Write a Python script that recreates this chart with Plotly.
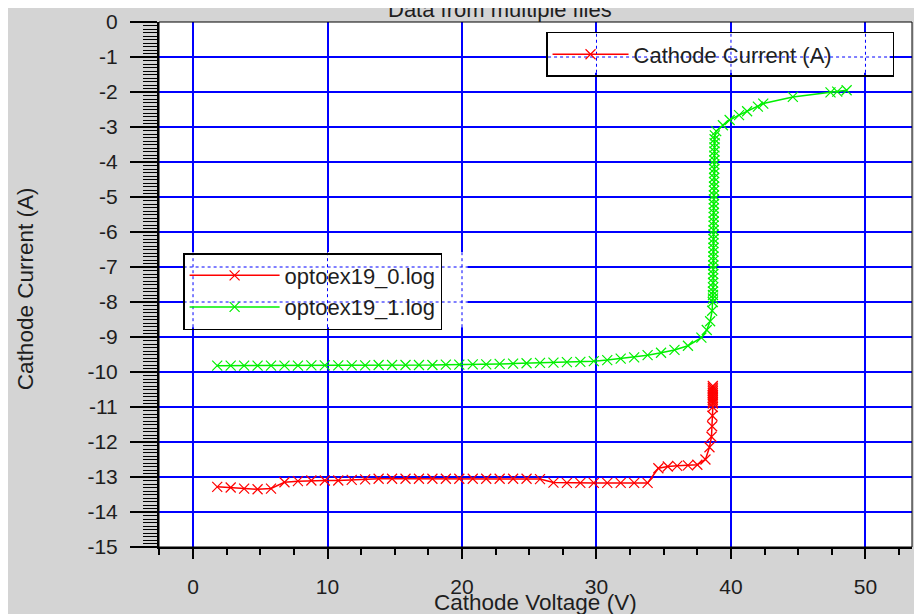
import plotly.graph_objects as go

# ---- data ----
GREEN_V = [1.8, 2.8, 3.8, 4.8, 5.8, 6.8, 7.8, 8.8, 9.8, 10.8, 11.8, 12.8, 13.8, 14.8,
           15.8, 16.8, 17.8, 18.8, 19.8, 20.8, 21.8, 22.8, 23.8, 24.8, 25.8, 26.8, 27.8,
           28.8, 29.8, 30.8, 31.8, 32.8, 33.8, 34.8, 35.8, 36.8, 37.8, 38.2, 38.45, 38.6,
           38.65, 38.66, 38.66, 38.66, 38.67, 38.67, 38.67, 38.68, 38.68, 38.68, 38.69,
           38.69, 38.69, 38.7, 38.7, 38.7, 38.7, 38.71, 38.71, 38.71, 38.72, 38.72, 38.72,
           38.73, 38.73, 38.73, 38.74, 38.74, 38.74, 38.75, 38.75, 38.75, 38.76, 38.76,
           38.76, 38.77, 38.77, 38.78, 38.78, 38.8, 38.9, 39.4, 39.9, 40.6, 41.2, 42.0,
           42.4, 44.6, 47.4, 47.9, 48.6]
GREEN_I = [-9.82, -9.82, -9.82, -9.82, -9.82, -9.82, -9.82, -9.81, -9.81, -9.81, -9.81,
           -9.81, -9.8, -9.8, -9.8, -9.8, -9.8, -9.79, -9.79, -9.78, -9.78, -9.77, -9.76,
           -9.75, -9.74, -9.73, -9.72, -9.71, -9.69, -9.66, -9.62, -9.58, -9.52, -9.45,
           -9.37, -9.25, -9.02, -8.8, -8.55, -8.25, -8.0, -7.9, -7.8, -7.7, -7.58, -7.45,
           -7.32, -7.2, -7.07, -6.95, -6.82, -6.7, -6.57, -6.45, -6.32, -6.2, -6.07, -5.95,
           -5.82, -5.7, -5.57, -5.45, -5.32, -5.2, -5.07, -4.95, -4.82, -4.7, -4.57, -4.45,
           -4.32, -4.2, -4.07, -3.95, -3.82, -3.7, -3.58, -3.46, -3.35, -3.24, -3.12,
           -2.95, -2.8, -2.66, -2.55, -2.42, -2.33, -2.14, -2.01, -1.99, -1.95]

RED_V = [1.8, 2.8, 3.8, 4.8, 5.8, 6.8, 7.8, 8.8, 9.8, 10.8, 11.8, 12.8, 13.8, 14.8,
         15.8, 16.8, 17.8, 18.8, 19.8, 20.8, 21.8, 22.8, 23.8, 24.8, 25.8, 26.8, 27.8,
         28.8, 29.8, 30.8, 31.8, 32.8, 33.8, 34.6, 35.3, 36.0, 36.8, 37.5, 38.1, 38.4,
         38.55, 38.6, 38.62, 38.65, 38.65, 38.65, 38.65, 38.65, 38.65, 38.65, 38.65,
         38.65, 38.65, 38.65, 38.65]
RED_I = [-13.28, -13.3, -13.33, -13.35, -13.33, -13.15, -13.12, -13.1, -13.1, -13.1,
         -13.08, -13.07, -13.05, -13.05, -13.05, -13.05, -13.05, -13.05, -13.05, -13.05,
         -13.05, -13.05, -13.05, -13.05, -13.06, -13.16, -13.17, -13.17, -13.17, -13.17,
         -13.17, -13.17, -13.17, -12.75, -12.7, -12.68, -12.67, -12.65, -12.5, -12.15,
         -11.85, -11.55, -11.25, -11.0, -10.9, -10.85, -10.8, -10.75, -10.7, -10.65,
         -10.6, -10.55, -10.5, -10.45, -10.4]

SERIES_NAMES = ["optoex19_0.log", "optoex19_1.log"]
Y_TICKS = [0, -1, -2, -3, -4, -5, -6, -7, -8, -9, -10, -11, -12, -13, -14, -15]
Y_TICK_TEXT = [str(v) for v in Y_TICKS]
X_TICKS = [0, 10, 20, 30, 40, 50]

FONT = "Arial, Liberation Sans, sans-serif"
TXT = "#1e1e1e"
GRID = "#0000ff"
X_RANGE = [-2.53, 53.46]

fig = go.Figure()


def series(x, y, name, color, legend="legend"):
    return go.Scatter(
        x=x, y=y, name=name, mode="lines+markers", legend=legend,
        line=dict(color=color, width=1.5),
        marker=dict(symbol="x-thin", size=10, line=dict(color=color, width=1.2)),
    )


fig.add_trace(series(RED_V, RED_I, SERIES_NAMES[0], "#ff0000"))
fig.add_trace(series(GREEN_V, GREEN_I, SERIES_NAMES[1], "#00f000"))
# second legend box (y-axis variable); trailing nbsp widens the box like the original
fig.add_trace(series([None], [None], "Cathode Current (A)" + "\u00a0" * 9, "#ff0000",
                     legend="legend2"))

shapes = []
# legend backdrops with dotted grid showing through
for (x0, x1, y0, y1, gx, gy) in [(-0.7, 20.4, -8.72, -6.57, [0, 10, 20], [-7, -8]),
                                  (26.4, 51.8, -1.45, -0.29, [30, 40, 50], [-1])]:
    shapes.append(dict(type="rect", xref="x", yref="y", x0=x0, x1=x1, y0=y0, y1=y1,
                       fillcolor="white", line=dict(width=0), layer="between"))
    for gxv in gx:
        shapes.append(dict(type="line", xref="x", yref="y", x0=gxv, x1=gxv, y0=y0, y1=y1,
                           line=dict(color=GRID, width=1, dash="dot"), layer="between"))
    for gyv in gy:
        shapes.append(dict(type="line", xref="x", yref="y", x0=x0, x1=x1, y0=gyv, y1=gyv,
                           line=dict(color=GRID, width=1, dash="dot"), layer="between"))

# plot frame
shapes.append(dict(type="rect", xref="paper", yref="paper", x0=0, x1=1, y0=0, y1=1,
                   line=dict(color="black", width=1), layer="above"))

fig.update_layout(
    width=922, height=614,
    margin=dict(l=151, r=18, t=14, b=75),
    paper_bgcolor="#d4d4d4", plot_bgcolor="white",
    font=dict(family=FONT, size=21, color=TXT),
    shapes=shapes,
    legend=dict(x=0.032, y=0.56, xanchor="left", yanchor="top",
                bgcolor="rgba(0,0,0,0)", bordercolor="black", borderwidth=1.5,
                font=dict(family=FONT, size=22, color=TXT), itemwidth=90,
                tracegroupgap=0),
    legend2=dict(x=0.514, y=0.981, xanchor="left", yanchor="top",
                 bgcolor="rgba(0,0,0,0)", bordercolor="black", borderwidth=1.5,
                 font=dict(family=FONT, size=22, color=TXT), itemwidth=76),
    annotations=[
        dict(text="Data from multiple files", xref="paper", yref="paper", x=0.453,
             y=1.0238, showarrow=False, font=dict(family=FONT, size=22, color=TXT),
             xanchor="center", yanchor="middle"),
        dict(text="Cathode Current (A)", xref="paper", yref="paper", x=-0.178, y=0.493,
             textangle=-90, showarrow=False, font=dict(family=FONT, size=22.5, color=TXT),
             xanchor="center", yanchor="middle"),
        dict(text="Cathode Voltage (V)", xref="paper", yref="paper", x=0.5, y=-0.105,
             showarrow=False, font=dict(family=FONT, size=22.5, color=TXT),
             xanchor="center", yanchor="middle"),
    ],
    hovermode=False,
)

fig.update_xaxes(
    range=X_RANGE, tickmode="array", tickvals=X_TICKS, automargin=False,
    showgrid=True, gridcolor=GRID, gridwidth=1.5, zeroline=False,
    showline=True, linecolor="black", linewidth=2,
    ticks="outside", ticklen=10, tickwidth=2, tickcolor="black",
    ticklabelstandoff=10, tickfont=dict(family=FONT, size=21, color=TXT),
    minor=dict(tickmode="linear", tick0=0, dtick=2.5, ticks="outside", ticklen=6,
               tickwidth=1.5, tickcolor="black", showgrid=False),
)
fig.update_yaxes(
    range=[-15, 0], tickmode="array", tickvals=Y_TICKS, ticktext=Y_TICK_TEXT,
    automargin=False,
    showgrid=True, gridcolor=GRID, gridwidth=1.5, zeroline=False,
    showline=True, linecolor="black", linewidth=2,
    ticks="outside", ticklen=27, tickwidth=2, tickcolor="black",
    ticklabelstandoff=8, tickfont=dict(family=FONT, size=21, color=TXT),
    minor=dict(tickmode="linear", tick0=0, dtick=0.1, ticks="outside", ticklen=14,
               tickwidth=1.2, tickcolor="black", showgrid=False),
)

fig.write_html("out.html")
